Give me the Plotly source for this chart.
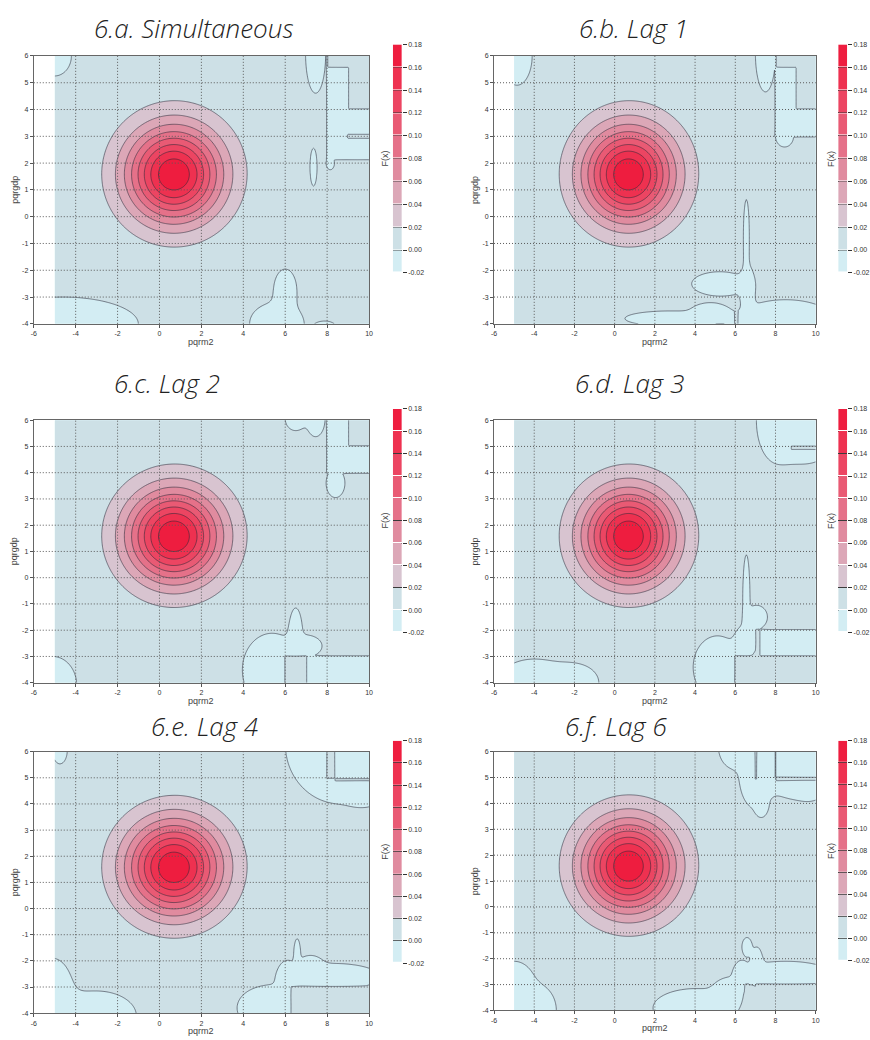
import numpy as np
import plotly.graph_objects as go

W, H = 870, 1040

# ---------------------------------------------------------------- text
panel_titles = ["6.a. Simultaneous", "6.b. Lag 1", "6.c. Lag 2",
                "6.d. Lag 3", "6.e. Lag 4", "6.f. Lag 6"]
x_label = "pqrm2"
y_label = "pqrgdp"
bar_label = "F(x)"

# ---------------------------------------------------------------- scales
levels = [-0.02, 0.00, 0.02, 0.04, 0.06, 0.08, 0.10, 0.12, 0.14, 0.16, 0.18]
band_colors = ["#d3edf3", "#cde0e6", "#d8c4d0", "#dca7b7", "#e08b9f",
               "#e57189", "#e95a74", "#ec4562", "#ee3150", "#ee1d3f"]
x_ticks = [-6, -4, -2, 0, 2, 4, 6, 8, 10]
y_ticks = [-4, -3, -2, -1, 0, 1, 2, 3, 4, 5, 6]

# ---------------------------------------------------------------- surface
grid_x = (-5.0, 10.0)
grid_y = (-4.0, 6.0)
grid_step = 0.05
base_level = 0.004

# density peak kernels: (x, y, spread_x, spread_y, height)
peak_kernels = [(0.68, 1.57, 1.55, 1.22, 0.168),
                (1.2, 2.0, 2.4, 1.9, 0.0065)]

# pockets where F(x) dips below zero: (x, y, half_width, half_height)
pockets_a = [(-5.0, 6.0, 0.8, 0.75), (7.45, 6.1, 0.48, 1.5),
             (7.35, 1.85, 0.17, 0.72), (-4.6, -4.0, 3.6, 1.0),
             (5.6, -4.0, 1.3, 0.8), (6.0, -2.75, 0.55, 0.8),
             (7.9, -4.15, 0.55, 0.25), (8.15, 2.0, 0.2, 0.25)]
pockets_b = [(-4.85, 6.0, 0.75, 1.1), (7.5, 6.1, 0.5, 1.45),
             (8.45, 3.0, 0.45, 0.4), (6.55, -0.8, 0.15, 1.5),
             (6.6, -2.6, 0.35, 0.8), (5.2, -2.5, 1.4, 0.45),
             (2.7, -3.8, 2.2, 0.28), (4.7, -3.55, 0.9, 0.32),
             (8.5, -4.2, 2.8, 1.1)]
pockets_c = [(6.5, 6.05, 0.5, 0.45), (7.45, 6.05, 0.45, 0.68),
             (8.4, 3.6, 0.45, 0.55), (5.35, -3.5, 1.4, 1.4),
             (6.5, -2.2, 0.32, 1.05), (7.0, -2.6, 0.75, 0.4),
             (-5.1, -4.1, 1.15, 1.1)]
pockets_d = [(8.1, 6.0, 1.05, 1.6), (9.5, 5.2, 1.3, 0.85),
             (6.55, -0.8, 0.18, 1.75), (7.05, -1.5, 0.55, 0.45),
             (6.55, -2.4, 0.55, 0.6), (5.1, -3.4, 1.2, 1.2),
             (-4.0, -4.0, 1.8, 0.9), (-2.0, -4.0, 1.2, 0.7)]
pockets_e = [(-4.75, 6.05, 0.35, 0.52), (8.6, 6.2, 2.6, 2.2),
             (9.8, 4.5, 0.8, 0.5), (6.57, -1.75, 0.16, 0.6),
             (8.3, -2.6, 2.2, 0.5), (7.2, -2.2, 0.6, 0.4),
             (5.2, -3.8, 1.5, 0.85), (6.1, -2.6, 0.45, 0.6),
             (-5.1, -3.3, 1.0, 1.4), (-3.0, -4.1, 1.9, 0.95)]
pockets_f = [(5.9, 6.2, 0.75, 0.85), (7.0, 5.0, 0.8, 1.2),
             (8.8, 5.7, 1.5, 1.5), (9.8, 4.9, 0.8, 0.7),
             (7.3, 3.9, 0.3, 0.4), (6.58, -1.54, 0.25, 0.36),
             (7.07, -2.2, 0.3, 0.65), (8.5, -2.6, 2.3, 0.5),
             (6.3, -2.6, 0.35, 0.5), (4.0, -3.9, 2.1, 0.75),
             (5.6, -3.3, 0.7, 0.5), (-5.0, -2.9, 0.95, 0.8),
             (-3.9, -4.0, 1.0, 1.0)]

# flat cells just below zero: (x0, x1, y0, y1)
low_cells_a = [(8.0, 9.0, 4.0, 5.55), (8.0, 10.0, 2.15, 4.0),
               (7.97, 8.03, 5.55, 6.2)]
low_cells_b = [(8.0, 9.0, 3.0, 5.56), (9.0, 10.0, 3.0, 4.0),
               (7.97, 8.03, 5.56, 6.2)]
low_cells_c = [(8.0, 9.0, 4.0, 6.2), (9.0, 10.0, 4.0, 5.0),
               (7.0, 10.0, -4.2, -3.0)]
low_cells_d = [(7.2, 10.0, -3.0, -2.0)]
low_cells_e = [(6.89, 6.96, -4.2, -3.0), (7.97, 8.03, -4.2, -3.0)]
low_cells_f = [(7.98, 8.05, -4.2, -3.0)]

# flat cells just above zero: (x0, x1, y0, y1)
high_cells_a = [(9.0, 10.0, 2.95, 3.05)]
high_cells_b = [(6.0, 6.1, -4.2, -3.0)]
high_cells_c = [(6.0, 7.0, -4.2, -3.0)]
high_cells_d = [(8.8, 10.0, 4.88, 5.0), (6.0, 10.0, -4.2, -3.0),
                (7.04, 7.2, -3.0, -2.0)]
high_cells_e = [(8.0, 8.38, 4.96, 6.2), (8.38, 10.0, 4.88, 4.97),
                (6.26, 10.0, -4.2, -3.0)]
high_cells_f = [(7.0, 7.06, 4.95, 6.2), (7.98, 8.04, 5.0, 6.2),
                (8.04, 10.0, 4.9, 5.0), (6.5, 6.66, -4.2, -3.0),
                (7.04, 10.0, -4.2, -3.0)]

panel_pockets = [pockets_a, pockets_b, pockets_c, pockets_d, pockets_e, pockets_f]
panel_low = [low_cells_a, low_cells_b, low_cells_c, low_cells_d, low_cells_e, low_cells_f]
panel_high = [high_cells_a, high_cells_b, high_cells_c, high_cells_d, high_cells_e, high_cells_f]

xs = np.round(np.arange(grid_x[0], grid_x[1] + 1e-9, grid_step), 4)
ys = np.round(np.arange(grid_y[0], grid_y[1] + 1e-9, grid_step), 4)
GX, GY = np.meshgrid(xs, ys)


def density_surface(pockets, low_cells, high_cells):
    z = np.full(GX.shape, base_level)
    for cx, cy, sx, sy, h in peak_kernels:
        z += h * np.exp(-((GX - cx) ** 2 / (2 * sx ** 2) + (GY - cy) ** 2 / (2 * sy ** 2)))
    depth = base_level * np.exp(1.5)
    for cx, cy, rx, ry in pockets:
        d = ((GX - cx) / rx) ** 2 + ((GY - cy) / ry) ** 2
        z -= depth * np.exp(-1.5 * d)
    z = np.clip(z, -0.0185, 0.1795)
    for x0, x1, y0, y1 in low_cells:
        z[(GX >= x0) & (GX <= x1) & (GY >= y0) & (GY <= y1)] = -0.004
    for x0, x1, y0, y1 in high_cells:
        z[(GX >= x0) & (GX <= x1) & (GY >= y0) & (GY <= y1)] = 0.004
    return z.astype(np.float32)


# contour fills sample the scale at k/11 (k = 1..10 for the ten bands)
n_slots = len(levels) + 1
contour_scale = []
for k in range(n_slots):
    col = band_colors[min(max(k - 1, 0), len(band_colors) - 1)]
    contour_scale.append([max(0.0, (k - 0.5) / (n_slots - 1)), col])
    contour_scale.append([min(1.0, (k + 0.5) / (n_slots - 1)), col])

bar_mids = [round((levels[i] + levels[i + 1]) / 2, 3) for i in range(len(levels) - 1)]
bar_scale = []
nb = len(band_colors)
for k, col in enumerate(band_colors):
    bar_scale.append([k / nb, col])
    bar_scale.append([(k + 1) / nb, col])

# ---------------------------------------------------------------- layout boxes (px)
plot_boxes = [(31, 369, 52.3, 322), (495, 819.3, 52.3, 322),
              (31, 369, 419, 683.3), (495, 819.3, 419, 683.3),
              (31, 369, 752.7, 1016), (495, 819.3, 752.7, 1013.3)]
bar_boxes = [(393, 402, 40.7, 270.7), (842, 851, 40.7, 270.7),
             (393, 402, 407.7, 632.7), (842, 851, 407.7, 632.7),
             (393, 402, 741.7, 965.7), (842, 851, 741.7, 963.3)]
title_pos = [(192, 24), (636, 24), (165, 382), (632, 382), (203, 727), (618, 727)]


def dom_x(a, b):
    return [a / W, b / W]


def dom_y(top, bottom):
    return [1 - bottom / H, 1 - top / H]


tick_font = dict(family="Liberation Sans, Arial, sans-serif", size=7, color="#333")
label_font = dict(family="Liberation Sans, Arial, sans-serif", size=9, color="#444")
title_font = dict(family="'Open Sans', Lato, sans-serif", size=26, color="#222",
                  style="italic", weight=300)
grid_line = dict(color="#5a5a5a", width=1, dash="1px,2px")

fig = go.Figure()
layout = dict(width=W, height=H, margin=dict(l=0, r=0, t=0, b=0),
              paper_bgcolor="white", plot_bgcolor="white", showlegend=False)
shapes = []
annotations = []

for i in range(6):
    n = i + 1
    nb_ax = i + 7
    xa = "xaxis" if n == 1 else f"xaxis{n}"
    ya = "yaxis" if n == 1 else f"yaxis{n}"
    xr = "x" if n == 1 else f"x{n}"
    yr = "y" if n == 1 else f"y{n}"
    bxa, bya, bxr, byr = f"xaxis{nb_ax}", f"yaxis{nb_ax}", f"x{nb_ax}", f"y{nb_ax}"

    z = density_surface(panel_pockets[i], panel_low[i], panel_high[i])
    fig.add_trace(go.Contour(
        x=xs, y=ys, z=z, xaxis=xr, yaxis=yr,
        autocontour=False,
        contours=dict(start=levels[0], end=levels[-1], size=0.02,
                      coloring="fill", showlines=True),
        colorscale=contour_scale, zauto=False, zmin=-0.03, zmax=0.19,
        showscale=False,
        line=dict(color="rgba(40,40,55,0.62)", width=0.9, smoothing=0.8),
        hoverinfo="skip"))

    fig.add_trace(go.Heatmap(
        x=[0], y=bar_mids, z=[[m] for m in bar_mids], xaxis=bxr, yaxis=byr,
        colorscale=bar_scale, zmin=levels[0], zmax=levels[-1], showscale=False,
        ygap=1, hoverinfo="skip"))

    px0, px1, py0, py1 = plot_boxes[i]
    layout[xa] = dict(domain=dom_x(px0, px1), range=[-6, 10], anchor=yr,
                      tickvals=x_ticks, ticktext=[str(v) for v in x_ticks],
                      ticks="outside", ticklen=3, tickcolor="#555",
                      showgrid=False, zeroline=False, showline=True, mirror=True,
                      linecolor="#666", linewidth=1, tickfont=tick_font,
                      fixedrange=True)
    layout[ya] = dict(domain=dom_y(py0, py1), range=[-4, 6], anchor=xr,
                      tickvals=y_ticks, ticktext=[str(v) for v in y_ticks],
                      ticks="outside", ticklen=3, tickcolor="#555",
                      showgrid=False, zeroline=False, showline=True, mirror=True,
                      linecolor="#666", linewidth=1, tickfont=tick_font,
                      fixedrange=True)

    bx0, bx1, by0, by1 = bar_boxes[i]
    layout[bxa] = dict(domain=dom_x(bx0, bx1), range=[-0.5, 0.5], anchor=byr,
                       visible=False, fixedrange=True)
    layout[bya] = dict(domain=dom_y(by0, by1), range=[levels[0], levels[-1]],
                       anchor=bxr, side="right",
                       tickvals=levels, ticktext=[f"{v:.2f}" for v in levels],
                       ticks="outside", ticklen=4, tickcolor="#333",
                       showgrid=True, gridcolor="#3a3a3a", gridwidth=1,
                       zeroline=False, showline=False, tickfont=tick_font,
                       fixedrange=True)

    # dotted grid drawn over the filled contours
    for v in x_ticks[1:-1]:
        shapes.append(dict(type="line", xref=xr, yref=f"{yr} domain",
                           x0=v, x1=v, y0=0, y1=1, line=grid_line, layer="above"))
    for v in y_ticks[1:-1]:
        shapes.append(dict(type="line", xref=f"{xr} domain", yref=yr,
                           x0=0, x1=1, y0=v, y1=v, line=grid_line, layer="above"))

    tx, ty = title_pos[i]
    annotations.append(dict(text=panel_titles[i], x=tx / W, y=1 - ty / H,
                            xref="paper", yref="paper", showarrow=False,
                            xanchor="center", yanchor="middle", font=title_font))
    annotations.append(dict(text=x_label, x=(px0 + px1) / 2 / W, y=1 - (py1 + 18) / H,
                            xref="paper", yref="paper", showarrow=False,
                            xanchor="center", yanchor="middle", font=label_font))
    annotations.append(dict(text=y_label, x=(px0 - 19) / W, y=1 - (py0 + py1) / 2 / H,
                            xref="paper", yref="paper", showarrow=False,
                            textangle=-90, xanchor="center", yanchor="middle",
                            font=label_font))
    annotations.append(dict(text=bar_label, x=(bx0 - 8) / W, y=1 - (by0 + by1) / 2 / H,
                            xref="paper", yref="paper", showarrow=False,
                            textangle=-90, xanchor="center", yanchor="middle",
                            font=label_font))

layout["shapes"] = shapes
layout["annotations"] = annotations
fig.update_layout(**layout)
fig.write_html("out.html")
